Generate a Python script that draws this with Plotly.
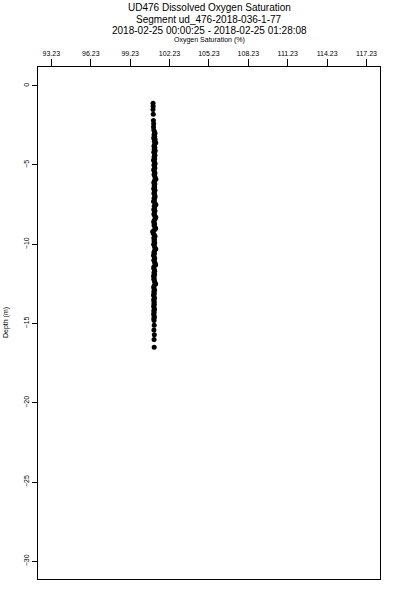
import plotly.graph_objects as go

title_lines = ["UD476 Dissolved Oxygen Saturation",
               "Segment ud_476-2018-036-1-77",
               "2018-02-25 00:00:25 - 2018-02-25 01:28:08"]
x_title = "Oxygen Saturation (%)"
y_title = "Depth (m)"

x_tick_vals = [93.23, 96.23, 99.23, 102.23, 105.23, 108.23, 111.23, 114.23, 117.23]
x_tick_text = ["93.23", "96.23", "99.23", "102.23", "105.23", "108.23", "111.23", "114.23", "117.23"]
y_tick_vals = [0, -5, -10, -15, -20, -25, -30]

depth = [-1.1, -1.3, -1.5, -1.8, -2.2, -2.4, -2.6,
         -2.8, -2.9, -3.0, -3.1, -3.2, -3.3, -3.4, -3.5, -3.6, -3.7,
         -3.8, -3.9, -4.0, -4.1, -4.2, -4.3, -4.4, -4.5, -4.6, -4.7,
         -4.8, -4.9, -5.0, -5.1, -5.2, -5.3, -5.4, -5.5, -5.6, -5.7,
         -5.8, -5.9, -6.0, -6.1, -6.2, -6.3, -6.4, -6.5, -6.6, -6.7,
         -6.8, -6.9, -7.0, -7.1, -7.2, -7.3, -7.4, -7.5, -7.6, -7.7,
         -7.8, -7.9, -8.0, -8.1, -8.2, -8.3, -8.4, -8.5, -8.6, -8.7,
         -8.8, -8.9, -9.0, -9.1, -9.2, -9.3, -9.4, -9.5, -9.6, -9.7,
         -9.8, -9.9, -10.0, -10.1, -10.2, -10.3, -10.4, -10.5, -10.6, -10.7,
         -10.8, -10.9, -11.0, -11.1, -11.2, -11.3, -11.4, -11.5, -11.6, -11.7,
         -11.8, -11.9, -12.0, -12.1, -12.2, -12.3, -12.4, -12.5, -12.6, -12.7,
         -12.8, -12.9, -13.0, -13.1, -13.2, -13.3, -13.4, -13.5, -13.6, -13.7,
         -13.8, -13.9, -14.0, -14.1, -14.2, -14.3, -14.4, -14.5, -14.6, -14.7,
         -14.8, -15.1, -15.4, -15.7, -16.0, -16.5]

oxygen = [100.97, 100.98, 100.97, 100.99, 101.00, 101.02, 101.01,
          101.03, 101.08, 101.12, 101.05, 101.10, 101.02, 101.13, 101.07, 101.18, 101.09,
          101.04, 101.11, 101.06, 101.14, 101.03, 101.09, 101.12, 101.05, 101.10, 101.01,
          101.08, 101.13, 101.04, 101.09, 101.11, 101.02, 101.07, 101.12, 101.05, 101.10,
          101.14, 101.19, 101.08, 101.03, 101.11, 101.06, 101.09, 101.02, 101.12, 101.07,
          101.04, 101.10, 101.13, 101.05, 101.08, 101.01, 101.11, 101.19, 101.06, 101.09,
          101.03, 101.12, 101.07, 101.04, 101.10, 101.18, 101.13, 101.06, 101.02, 101.09,
          101.05, 101.11, 101.17, 101.08, 100.95, 100.99, 101.06, 101.12, 101.03, 101.08,
          101.05, 101.10, 101.02, 101.07, 101.11, 101.18, 101.09, 101.04, 101.08, 101.01,
          101.06, 101.10, 101.03, 101.08, 101.13, 101.17, 101.05, 101.02, 101.07, 101.10,
          101.04, 101.09, 101.01, 101.06, 101.03, 101.08, 101.11, 101.17, 101.07, 101.02,
          101.05, 101.09, 101.03, 101.07, 101.01, 101.05, 101.08, 101.02, 101.06, 101.04,
          101.07, 101.02, 101.05, 101.08, 101.03, 101.06, 101.02, 101.05, 101.07, 101.03,
          101.05, 101.06, 101.04, 101.07, 101.05, 101.06]

FONT = "Liberation Sans, Arial, Helvetica, sans-serif"

fig = go.Figure()
fig.add_trace(go.Scatter(
    x=oxygen, y=depth, mode="markers",
    marker=dict(color="black", size=5, line=dict(width=0)),
    hoverinfo="skip", showlegend=False))

plot_top = 67
annotations = []
for line, yc in zip(title_lines, [7, 19, 30.5]):
    annotations.append(dict(text=line, xref="paper", yref="paper", x=0.5, y=1,
                            xanchor="center", yanchor="middle", yshift=plot_top - yc,
                            showarrow=False, font=dict(family=FONT, size=10, color="black")))
annotations.append(dict(text=x_title, xref="paper", yref="paper", x=0.5, y=1,
                        xanchor="center", yanchor="middle", yshift=plot_top - 39.5,
                        showarrow=False, font=dict(family=FONT, size=7, color="black")))
annotations.append(dict(text=y_title, xref="paper", yref="paper", x=0, y=0.5,
                        xanchor="center", yanchor="middle", xshift=-32, textangle=-90,
                        showarrow=False, font=dict(family=FONT, size=7, color="black")))

fig.update_layout(
    width=400, height=600,
    margin=dict(l=38, r=20, t=67, b=21, pad=0, autoexpand=False),
    paper_bgcolor="white", plot_bgcolor="white",
    font=dict(family=FONT, size=7, color="black"),
    annotations=annotations,
    xaxis=dict(side="top", range=[92.21, 118.26], tickmode="array",
               tickvals=x_tick_vals, ticktext=x_tick_text, automargin=False,
               ticks="outside", ticklen=7, tickwidth=1, tickcolor="black",
               showline=True, linecolor="black", linewidth=1, mirror=True,
               showgrid=False, zeroline=False,
               tickfont=dict(family=FONT, size=7, color="black")),
    yaxis=dict(range=[-31.11, 1.18], tickmode="array", tickvals=y_tick_vals,
               automargin=False,
               ticks="outside", ticklen=5, tickwidth=1, tickcolor="black",
               tickangle=-90,
               showline=True, linecolor="black", linewidth=1, mirror=True,
               showgrid=False, zeroline=False,
               tickfont=dict(family=FONT, size=7, color="black")),
)

fig.write_html("out.html",
               config={"displayModeBar": False, "staticPlot": True},
               post_script="document.body.style.margin='0';document.body.style.overflow='hidden';")
